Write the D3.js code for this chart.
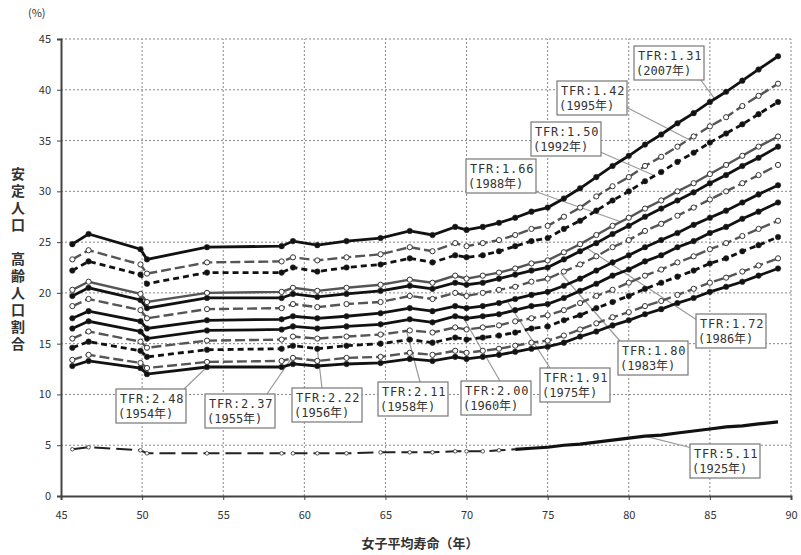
<!DOCTYPE html>
<html><head><meta charset="utf-8">
<script src="https://cdn.jsdelivr.net/npm/d3@7"></script>
<style>body{margin:0;background:#fff} svg{display:block}</style>
</head><body>
<svg id="c" width="801" height="555"></svg>
<script>
// female life expectancy (x) at which each stable population is evaluated
const lifeExp = [45.7, 46.7, 49.9, 50.3, 54.0, 58.6, 59.3, 60.8, 62.6, 64.7, 66.5, 67.9, 69.3, 70.0, 71, 72, 73, 74, 75, 76, 77, 78, 79, 80, 81, 82, 83, 84, 85, 86, 87, 88, 89.2];

// share of elderly population (%) for each TFR level
const tfr131 = [24.8, 25.8, 24.3, 23.3, 24.5, 24.6, 25.1, 24.7, 25.1, 25.4, 26.1, 25.7, 26.5, 26.2, 26.5, 26.9, 27.4, 28.0, 28.4, 29.3, 30.3, 31.4, 32.5, 33.5, 34.6, 35.6, 36.7, 37.7, 38.8, 39.8, 40.9, 42.0, 43.3];
const tfr142 = [23.3, 24.2, 22.8, 21.9, 23.0, 23.1, 23.5, 23.2, 23.5, 23.8, 24.5, 24.1, 24.9, 24.6, 24.9, 25.2, 25.7, 26.3, 26.6, 27.5, 28.4, 29.5, 30.5, 31.4, 32.5, 33.4, 34.4, 35.4, 36.4, 37.3, 38.4, 39.4, 40.6];
const tfr150 = [22.2, 23.1, 21.8, 20.9, 22.0, 22.0, 22.5, 22.1, 22.5, 22.8, 23.4, 23.0, 23.7, 23.5, 23.7, 24.1, 24.6, 25.1, 25.4, 26.3, 27.1, 28.1, 29.1, 30.0, 31.0, 31.9, 32.9, 33.8, 34.8, 35.7, 36.6, 37.6, 38.8];
const tfr166 = [20.3, 21.1, 19.9, 19.1, 20.0, 20.1, 20.5, 20.2, 20.5, 20.8, 21.3, 21.0, 21.7, 21.4, 21.7, 22.0, 22.4, 22.9, 23.2, 24.0, 24.8, 25.7, 26.6, 27.4, 28.3, 29.1, 30.0, 30.8, 31.7, 32.6, 33.5, 34.4, 35.4];
const tfr172 = [19.7, 20.5, 19.3, 18.5, 19.5, 19.5, 19.9, 19.6, 19.9, 20.2, 20.7, 20.4, 21.0, 20.8, 21.0, 21.4, 21.8, 22.2, 22.5, 23.3, 24.1, 24.9, 25.8, 26.6, 27.5, 28.3, 29.1, 29.9, 30.8, 31.6, 32.5, 33.3, 34.4];
const tfr180 = [18.7, 19.4, 18.3, 17.5, 18.4, 18.5, 18.9, 18.6, 18.9, 19.1, 19.7, 19.4, 20.0, 19.7, 20.0, 20.3, 20.6, 21.1, 21.4, 22.1, 22.8, 23.6, 24.5, 25.2, 26.1, 26.8, 27.6, 28.4, 29.2, 30.0, 30.8, 31.6, 32.6];
const tfr191 = [17.5, 18.2, 17.2, 16.5, 17.3, 17.4, 17.7, 17.5, 17.7, 18.0, 18.5, 18.2, 18.7, 18.5, 18.7, 19.0, 19.4, 19.8, 20.1, 20.7, 21.4, 22.2, 23.0, 23.7, 24.5, 25.2, 25.9, 26.7, 27.4, 28.1, 28.9, 29.7, 30.6];
const tfr200 = [16.5, 17.2, 16.2, 15.5, 16.3, 16.4, 16.7, 16.5, 16.7, 16.9, 17.4, 17.1, 17.7, 17.5, 17.7, 17.9, 18.3, 18.7, 18.9, 19.5, 20.2, 20.9, 21.7, 22.3, 23.1, 23.7, 24.5, 25.1, 25.9, 26.5, 27.3, 28.0, 28.9];
const tfr211 = [15.5, 16.2, 15.2, 14.6, 15.3, 15.4, 15.7, 15.5, 15.7, 15.9, 16.3, 16.1, 16.6, 16.4, 16.6, 16.8, 17.2, 17.5, 17.8, 18.3, 19.0, 19.7, 20.3, 21.0, 21.7, 22.3, 23.0, 23.6, 24.3, 24.9, 25.6, 26.3, 27.1];
const tfr222 = [14.6, 15.2, 14.3, 13.7, 14.4, 14.5, 14.8, 14.5, 14.8, 15.0, 15.4, 15.1, 15.6, 15.4, 15.6, 15.8, 16.1, 16.5, 16.7, 17.3, 17.8, 18.5, 19.1, 19.7, 20.4, 21.0, 21.6, 22.2, 22.9, 23.4, 24.1, 24.7, 25.5];
const tfr237 = [13.4, 13.9, 13.1, 12.6, 13.2, 13.3, 13.6, 13.3, 13.6, 13.7, 14.1, 13.9, 14.3, 14.1, 14.3, 14.5, 14.8, 15.1, 15.3, 15.8, 16.4, 17.0, 17.6, 18.1, 18.7, 19.2, 19.8, 20.4, 21.0, 21.5, 22.1, 22.7, 23.4];
const tfr248 = [12.8, 13.3, 12.6, 12.0, 12.7, 12.7, 13.0, 12.8, 13.0, 13.1, 13.5, 13.3, 13.7, 13.5, 13.7, 13.9, 14.2, 14.5, 14.7, 15.1, 15.7, 16.2, 16.8, 17.3, 17.9, 18.4, 19.0, 19.5, 20.1, 20.6, 21.1, 21.7, 22.4];
const tfr511 = [4.6, 4.8, 4.5, 4.2, 4.2, 4.2, 4.2, 4.2, 4.2, 4.3, 4.3, 4.3, 4.4, 4.4, 4.4, 4.5, 4.6, 4.7, 4.8, 5.0, 5.1, 5.3, 5.5, 5.7, 5.9, 6.0, 6.2, 6.4, 6.6, 6.8, 6.9, 7.1, 7.3];

const tfrNames = ["1.31", "1.42", "1.50", "1.66", "1.72", "1.80", "1.91", "2.00", "2.11", "2.22", "2.37", "2.48", "5.11"];
const tfrYears = ["2007", "1995", "1992", "1988", "1986", "1983", "1975", "1960", "1958", "1956", "1955", "1954", "1925"];
const seriesValues = [tfr131, tfr142, tfr150, tfr166, tfr172, tfr180, tfr191, tfr200, tfr211, tfr222, tfr237, tfr248, tfr511];

const xTicks = [45, 50, 55, 60, 65, 70, 75, 80, 85, 90];
const yTicks = [0, 5, 10, 15, 20, 25, 30, 35, 40, 45];

// ---- styles / layout (not data) ----
const lineStyle = [
  {dash: null, open: false}, {dash: "10,4", open: true}, {dash: "6,4", open: false},
  {dash: null, open: true}, {dash: null, open: false}, {dash: "10,4", open: true},
  {dash: null, open: false}, {dash: null, open: false}, {dash: "10,4", open: true},
  {dash: "6,4", open: false}, {dash: "10,4", open: true}, {dash: null, open: false}
];
// box top-left, leader start, leader target x (on its own series)
const labelLayout = [
  {box: [634, 46], from: [700, 79], at: 85.3},
  {box: [557, 81], from: [624, 106], at: 83.7},
  {box: [531, 122], from: [598, 151], at: 81.6},
  {box: [466, 159], from: [534, 191], at: 79.5},
  {box: [696, 314], from: [697, 320], at: 77.4},
  {box: [618, 341], from: [620, 341], at: 75.8},
  {box: [540, 368], from: [550, 368], at: 72.5},
  {box: [461, 381], from: [500, 381], at: 69.8},
  {box: [378, 382], from: [420, 382], at: 66.3},
  {box: [292, 388], from: [322, 388], at: 60.8},
  {box: [205, 394], from: [267, 394], at: 59.2},
  {box: [116, 389], from: [184, 389], at: 54.0},
  {box: [690, 444], from: [692, 448], at: 81.0}
];

const svg = d3.select("#c");
const x = d3.scaleLinear().domain([45, 90]).range([61, 791]);
const y = d3.scaleLinear().domain([0, 45]).range([496, 39]);
const tickFont = "'Noto Sans CJK JP', 'DejaVu Sans', sans-serif";

// grid
const grid = svg.append("g");
grid.selectAll("line.gx").data(xTicks.slice(1)).join("line")
  .attr("x1", d => x(d)).attr("x2", d => x(d)).attr("y1", y(0)).attr("y2", y(45))
  .attr("stroke", "#888").attr("stroke-width", 1).attr("stroke-dasharray", "2,2");
grid.selectAll("line.gy").data(yTicks.slice(1)).join("line")
  .attr("x1", x(45)).attr("x2", x(90)).attr("y1", d => y(d)).attr("y2", d => y(d))
  .attr("stroke", "#888").attr("stroke-width", 1).attr("stroke-dasharray", "2,2");

// axes
const xAxis = svg.append("g").attr("transform", `translate(0,${y(0)})`)
  .call(d3.axisBottom(x).tickValues(xTicks).tickSize(4).tickPadding(11).tickFormat(d3.format("d")));
const yAxis = svg.append("g").attr("transform", `translate(${x(45)},0)`)
  .call(d3.axisLeft(y).tickValues(yTicks).tickSize(4).tickPadding(6).tickFormat(d3.format("d")));
[xAxis, yAxis].forEach(a => {
  a.select(".domain").attr("stroke", "#444").attr("stroke-width", 2);
  a.selectAll(".tick line").attr("stroke", "#444");
  a.selectAll("text").attr("font-family", tickFont).attr("font-size", 11).attr("fill", "#333");
});

// titles
svg.append("text").attr("x", 28).attr("y", 17).attr("font-family", tickFont)
  .attr("font-size", 11).attr("fill", "#333").text("(%)");
svg.append("text").attr("x", 420).attr("y", 548).attr("text-anchor", "middle")
  .attr("font-family", tickFont).attr("font-size", 13).attr("font-weight", "bold").attr("fill", "#333")
  .text("女子平均寿命（年）");
svg.append("text").attr("x", 18).attr("y", 167)
  .style("writing-mode", "vertical-rl").attr("letter-spacing", 3)
  .attr("font-family", tickFont).attr("font-size", 14).attr("font-weight", "bold").attr("fill", "#333")
  .text("安定人口　高齢人口割合");

function valueAt(vals, xv) {
  for (let i = 0; i < lifeExp.length - 1; i++) {
    if (xv >= lifeExp[i] && xv <= lifeExp[i + 1]) {
      const t = (xv - lifeExp[i]) / (lifeExp[i + 1] - lifeExp[i]);
      return vals[i] + t * (vals[i + 1] - vals[i]);
    }
  }
  return vals[vals.length - 1];
}

// leaders (under lines)
const leaders = svg.append("g");
labelLayout.forEach((L, i) => {
  const tx = x(L.at), ty = y(valueAt(seriesValues[i], L.at));
  leaders.append("line").attr("x1", L.from[0]).attr("y1", L.from[1]).attr("x2", tx).attr("y2", ty)
    .attr("stroke", "#999").attr("stroke-width", 1.2);
});

// lines
const line = d3.line().x(d => x(d[0])).y(d => y(d[1]));
const plot = svg.append("g");

// 1925 line
const pts511 = lifeExp.map((v, i) => [v, tfr511[i]]);
plot.append("path").datum(pts511.filter(p => p[0] <= 73)).attr("d", line)
  .attr("fill", "none").attr("stroke", "#222").attr("stroke-width", 2).attr("stroke-dasharray", "16,6");
plot.append("path").datum(pts511.filter(p => p[0] >= 73)).attr("d", line)
  .attr("fill", "none").attr("stroke", "#111").attr("stroke-width", 3.2);
plot.selectAll("circle.m511").data(pts511.filter(p => p[0] <= 72)).join("circle")
  .attr("cx", d => x(d[0])).attr("cy", d => y(d[1])).attr("r", 1.8)
  .attr("fill", "#fff").attr("stroke", "#333").attr("stroke-width", 0.8);

for (let i = 11; i >= 0; i--) {
  const st = lineStyle[i];
  const pts = lifeExp.map((v, j) => [v, seriesValues[i][j]]);
  const g = plot.append("g");
  g.append("path").datum(pts).attr("d", line).attr("fill", "none")
    .attr("stroke", st.open ? "#555" : "#111").attr("stroke-width", st.open ? 2.4 : 2.8)
    .attr("stroke-dasharray", st.dash);
  g.selectAll("circle").data(pts).join("circle")
    .attr("cx", d => x(d[0])).attr("cy", d => y(d[1])).attr("r", st.open ? 2.6 : 2.8)
    .attr("fill", st.open ? "#fff" : "#111").attr("stroke", "#333").attr("stroke-width", st.open ? 1 : 0.5);
}

// labels
const labFont = "'DejaVu Sans Mono', 'Noto Sans CJK JP', monospace";
labelLayout.forEach((L, i) => {
  const g = svg.append("g").attr("transform", `translate(${L.box[0]},${L.box[1]})`);
  g.append("rect").attr("width", 70).attr("height", 34).attr("fill", "#fff")
    .attr("stroke", "#777").attr("stroke-width", 1.2);
  const t = g.append("text").attr("font-family", labFont).attr("font-size", 12).attr("fill", "#333");
  t.append("tspan").attr("x", 4).attr("y", 14).attr("letter-spacing", 0.8).text("TFR:" + tfrNames[i]);
  t.append("tspan").attr("x", 2).attr("y", 29).text("(" + tfrYears[i] + "年)");
});
</script>
</body></html>
